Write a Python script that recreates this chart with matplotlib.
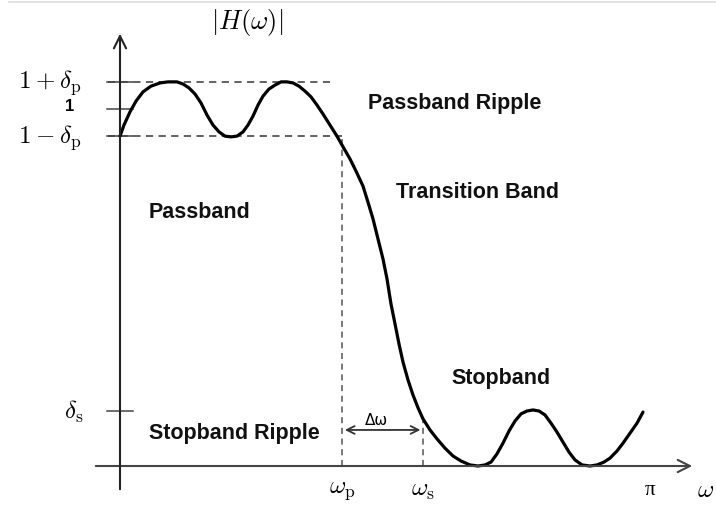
import matplotlib.pyplot as plt

plt.rcParams['mathtext.fontset'] = 'cm'

# frequency (as a fraction of pi) and magnitude |H(w)|
freq = [0.0000, 0.0075, 0.0189, 0.0302, 0.0434, 0.0585, 0.0755, 0.0906, 0.1075, 0.1189,
        0.1302, 0.1415, 0.1528, 0.1642, 0.1755, 0.1868, 0.1981, 0.2094, 0.2208, 0.2321,
        0.2415, 0.2509, 0.2604, 0.2698, 0.2811, 0.2925, 0.3038, 0.3151, 0.3264, 0.3377,
        0.3491, 0.3604, 0.3717, 0.3830, 0.3962, 0.4094, 0.4208, 0.4340, 0.4453, 0.4585,
        0.4679, 0.4774, 0.4868, 0.4962, 0.5038, 0.5113, 0.5189, 0.5264, 0.5340, 0.5434,
        0.5528, 0.5623, 0.5717, 0.5849, 0.5981, 0.6132, 0.6283, 0.6434, 0.6604, 0.6755,
        0.6887, 0.7000, 0.7113, 0.7226, 0.7340, 0.7453, 0.7566, 0.7679, 0.7792, 0.7906,
        0.8019, 0.8132, 0.8245, 0.8358, 0.8472, 0.8585, 0.8717, 0.8868, 0.9000, 0.9132,
        0.9245, 0.9377, 0.9491, 0.9623, 0.9755, 0.9868]
mag = [0.924, 0.955, 0.992, 1.022, 1.048, 1.064, 1.073, 1.076, 1.076, 1.070,
       1.059, 1.042, 1.017, 0.983, 0.955, 0.936, 0.924, 0.922, 0.924, 0.936,
       0.955, 0.980, 1.011, 1.036, 1.056, 1.067, 1.076, 1.076, 1.073, 1.064,
       1.050, 1.034, 1.011, 0.986, 0.955, 0.924, 0.894, 0.860, 0.826, 0.784,
       0.739, 0.692, 0.636, 0.580, 0.524, 0.454, 0.398, 0.342, 0.291, 0.241,
       0.199, 0.163, 0.132, 0.101, 0.076, 0.050, 0.028, 0.014, 0.003, 0.000,
       0.003, 0.011, 0.034, 0.064, 0.098, 0.126, 0.146, 0.154, 0.157, 0.154,
       0.143, 0.120, 0.095, 0.067, 0.039, 0.017, 0.003, 0.000, 0.003, 0.011,
       0.022, 0.042, 0.064, 0.092, 0.120, 0.151]

delta_p = 0.076
delta_s = 0.154
w_p = 0.419
w_s = 0.572
level_ticks = [1 + delta_p, 1.0, 1 - delta_p, delta_s]

region_labels = ["Passband Ripple", "Transition Band", "Passband", "Stopband", "Stopband Ripple"]
region_pos = [(0.468, 1.019), (0.520, 0.770), (0.054, 0.714), (0.625, 0.249), (0.054, 0.095)]

# pixel geometry of the reference: origin at (120, 467), 530 px per pi, 357 px per unit
W, H = 716, 506
x0, y0, sx, sy = 120, 467, 530.0, 357.0

fig = plt.figure(figsize=(W / 100, H / 100), dpi=100)
ax = fig.add_axes([0, 0, 1, 1])
ax.set_xlim(-x0 / sx, (W - x0) / sx)
ax.set_ylim((y0 - H) / sy, y0 / sy)
ax.axis("off")

# faint border at the top
fig.add_artist(plt.Line2D([0.013, 1], [0.995, 0.995], color="#dddddd", lw=1.2))

# axes with open arrow heads
ax.annotate("", xy=(575 / sx, 0), xytext=(-27 / sx, 0),
            arrowprops=dict(arrowstyle="->", color="#444444", lw=1.5, mutation_scale=22))
ax.annotate("", xy=(0, 435 / sy), xytext=(0, -26 / sy),
            arrowprops=dict(arrowstyle="->", color="#222222", lw=1.5, mutation_scale=22))

# dashed guide lines
dash = (0, (4, 3))
ax.plot([-12 / sx, 212 / sx], [1 + delta_p] * 2, ls=dash, color="#555555", lw=1.3)
ax.plot([-12 / sx, w_p], [1 - delta_p] * 2, ls=dash, color="#555555", lw=1.3)
ax.plot([w_p, w_p], [0, 1 - delta_p], ls=dash, color="#555555", lw=1.1)
ax.plot([w_s, w_s], [0, 0.13], ls=dash, color="#555555", lw=1.1)

# ticks on the magnitude axis
for lv in level_ticks:
    ax.plot([-13 / sx, 13 / sx], [lv, lv], color="#444444", lw=1.1)

# response curve
ax.plot(freq, mag, color="black", lw=2.3, solid_capstyle="round", solid_joinstyle="round")

# transition width arrow
ax.annotate("", xy=(w_s, 0.101), xytext=(w_p, 0.101),
            arrowprops=dict(arrowstyle="<->", color="#333333", lw=1.3, mutation_scale=14))
ax.text((w_p + w_s) / 2 - 0.012, 0.130, "\u0394\u03c9", fontsize=11, ha="center", va="center",
        family="DejaVu Sans")

# axis labels
ax.text(127 / sx, 445 / sy, r"$|H(\omega)|$", fontsize=19, ha="center", va="center")
ax.text(-38 / sx, 1 + delta_p, r"$1 \:+\: \delta_{\rm p}$", fontsize=18, ha="right", va="center")
ax.text(-50 / sx, 1.01, "1", fontsize=12, fontweight="bold", ha="center", va="center",
        family="Liberation Sans")
ax.text(-38 / sx, 1 - delta_p, r"$1 \:-\: \delta_{\rm p}$", fontsize=18, ha="right", va="center")
ax.text(-37 / sx, delta_s, r"$\delta_{\rm s}$", fontsize=18, ha="right", va="center")
ax.text(w_p, -0.065, r"$\omega_{\rm p}$", fontsize=18, ha="center", va="center")
ax.text(w_s, -0.065, r"$\omega_{\rm s}$", fontsize=18, ha="center", va="center")
ax.text(1.0, -0.065, "\u03c0", fontsize=15, ha="center", va="center", family="Liberation Serif")
ax.text(1.105, -0.065, r"$\omega$", fontsize=18, ha="center", va="center")

for lab, (px, py) in zip(region_labels, region_pos):
    ax.text(px, py, lab, fontsize=15.5, fontweight="bold", ha="left", va="center",
            family="Liberation Sans", color="#111111")

fig.savefig("out.png", dpi=100)
